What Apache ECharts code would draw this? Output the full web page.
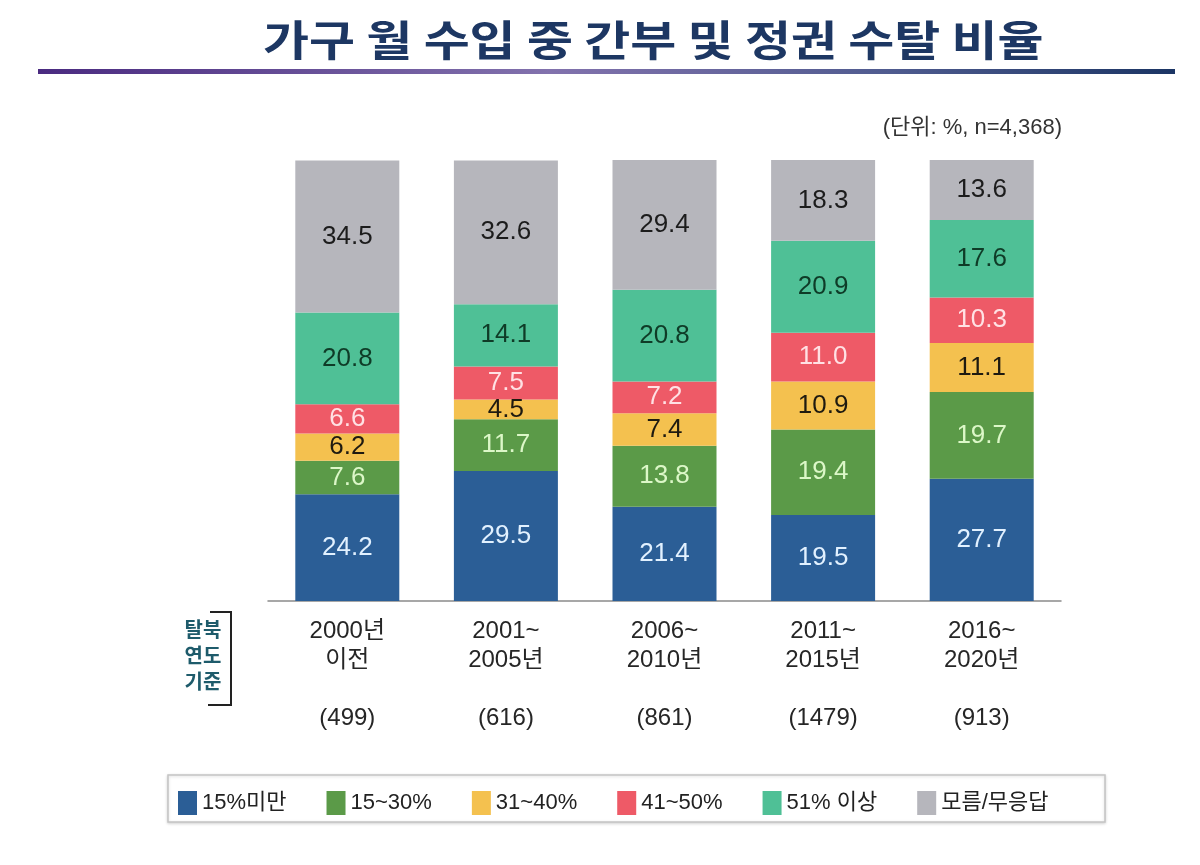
<!DOCTYPE html>
<html>
<head>
<meta charset="utf-8">
<script src="https://cdn.jsdelivr.net/npm/echarts@6/dist/echarts.min.js"></script>
<style>
html,body{margin:0;padding:0;background:#fff;}
#chart{width:1200px;height:865px;}
</style>
</head>
<body>
<div id="chart"></div>
<script>
var titleText = '가구 월 수입 중 간부 및 정권 수탈 비율';
var unitText = '(단위: %, n=4,368)';
var categories = ['2000년\n이전', '2001~\n2005년', '2006~\n2010년', '2011~\n2015년', '2016~\n2020년'];
var counts = [499, 616, 861, 1479, 913];
var seriesNames = ['15%미만', '15~30%', '31~40%', '41~50%', '51% 이상', '모름/무응답'];
var under15 = [24.2, 29.5, 21.4, 19.5, 27.7];
var r15to30 = [7.6, 11.7, 13.8, 19.4, 19.7];
var r31to40 = [6.2, 4.5, 7.4, 10.9, 11.1];
var r41to50 = [6.6, 7.5, 7.2, 11.0, 10.3];
var over51 = [20.8, 14.1, 20.8, 20.9, 17.6];
var noAnswer = [34.5, 32.6, 29.4, 18.3, 13.6];
var sideLabel = ['탈북', '연도', '기준'];

var seriesData = [under15, r15to30, r31to40, r41to50, over51, noAnswer];
var colors = ['#2B5E96', '#5B9A48', '#F4C14F', '#EE5A67', '#4FC096', '#B6B6BC'];
var labelColors = ['#e2f1ff', '#dcf7c8', '#1e1a10', '#ffe1e4', '#0f3b27', '#1c1c1c'];
var FONT = '"Liberation Sans", "Noto Sans CJK KR", sans-serif';

var chart = echarts.init(document.getElementById('chart'), null, {renderer: 'canvas'});

var series = seriesData.map(function (d, i) {
  return {
    name: seriesNames[i],
    type: 'bar',
    stack: 'total',
    barWidth: 104,
    data: d,
    itemStyle: {color: colors[i]},
    label: {
      show: true,
      position: 'inside',
      color: labelColors[i],
      fontSize: 26,
      fontFamily: FONT,
      formatter: function (p) { return p.value.toFixed(1); }
    },
    emphasis: {disabled: true}
  };
});

var option = {
  backgroundColor: '#ffffff',
  animation: false,
  grid: {left: 268, top: 160, width: 793, height: 441},
  xAxis: {
    type: 'category',
    data: categories,
    axisLine: {lineStyle: {color: '#8a8a8a', width: 1.5}},
    axisTick: {show: false},
    axisLabel: {
      margin: 16,
      color: '#262626',
      fontSize: 24,
      fontFamily: FONT,
      lineHeight: 29,
      formatter: function (v, idx) { return v + '\n\n(' + counts[idx] + ')'; }
    }
  },
  yAxis: {type: 'value', min: 0, max: 100, show: false},
  legend: {
    left: 173,
    top: 786,
    itemWidth: 19,
    itemHeight: 24,
    itemGap: 40,
    icon: 'rect',
    data: seriesNames,
    textStyle: {fontSize: 22, color: '#222', fontFamily: FONT}
  },
  graphic: [
    {
      type: 'text', x: 263, y: 40, scaleX: 1.19,
      style: {text: titleText, fontSize: 42, fontWeight: 'bold', fill: '#1d3763',
        fontFamily: '"Noto Sans CJK KR", sans-serif', textAlign: 'left', textVerticalAlign: 'middle'}
    },
    {
      type: 'rect', shape: {x: 38, y: 69, width: 1137, height: 5},
      style: {fill: new echarts.graphic.LinearGradient(0, 0, 1, 0, [
        {offset: 0, color: '#4a2a80'},
        {offset: 0.45, color: '#8272ad'},
        {offset: 0.75, color: '#4f5b8f'},
        {offset: 1, color: '#1b3564'}
      ])}
    },
    {
      type: 'text', x: 1062, y: 128,
      style: {text: unitText, fontSize: 22, fill: '#333', fontFamily: FONT,
        textAlign: 'right', textVerticalAlign: 'middle'}
    },
    {
      type: 'text', x: 203, y: 655,
      style: {text: sideLabel.join('\n'), fontSize: 20, fontWeight: 'bold', fill: '#1e5b6b',
        fontFamily: '"Noto Sans CJK KR", sans-serif', textAlign: 'center', textVerticalAlign: 'middle', lineHeight: 26}
    },
    {
      type: 'polyline', shape: {points: [[210, 612], [231, 612], [231, 705], [208, 705]]},
      style: {stroke: '#222', lineWidth: 2, fill: null}
    },
    {
      type: 'rect', z: -1, shape: {x: 168, y: 775, width: 937, height: 47},
      style: {fill: '#fff', stroke: '#c4c4c4', lineWidth: 1.5, shadowBlur: 3, shadowColor: 'rgba(0,0,0,0.15)', shadowOffsetY: 1}
    }
  ],
  series: series
};
chart.setOption(option);
</script>
</body>
</html>
